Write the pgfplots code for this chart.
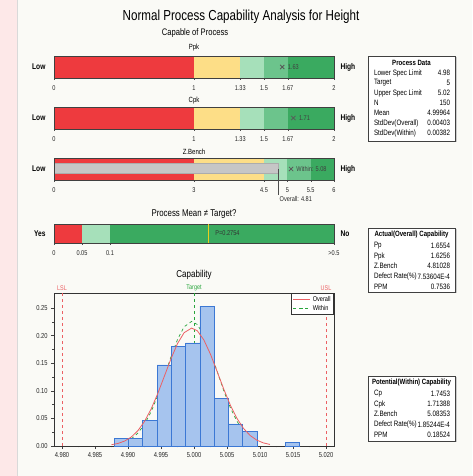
\documentclass[border=0pt]{standalone}
\usepackage{pgfplots}
\pgfplotsset{compat=1.18}
\usepackage{fontspec}
\setmainfont[FakeStretch=0.8]{Liberation Sans}
\definecolor{cred}{RGB}{238,58,62}
\definecolor{cyel}{RGB}{253,222,135}
\definecolor{cg1}{RGB}{166,224,186}
\definecolor{cg2}{RGB}{108,196,140}
\definecolor{cg3}{RGB}{58,170,96}
\definecolor{pinkbg}{RGB}{253,232,232}
\definecolor{panel}{RGB}{250,250,246}
\definecolor{hfill}{RGB}{166,196,238}
\definecolor{hdraw}{RGB}{60,120,212}
\definecolor{lred}{RGB}{236,96,100}
\definecolor{tgreen}{RGB}{40,165,60}
\definecolor{pline}{RGB}{235,205,30}
\newcommand{\fs}[1]{\fontsize{#1}{#1}\selectfont}
\pgfplotsset{
  segbar/.style={scale only axis, width=280pt, height=22pt, ymin=0, ymax=1,
    axis y line=none, axis x line*=bottom, clip=false,
    x axis line style={draw=none},
    tick align=outside, major tick length=2pt,
    tick style={black!70},
    xticklabel style={font=\fs{7}, text=black!85, yshift=-2pt}},
  seg/.style={fill=#1, draw=none},
  outl/.style={draw=black!75, line width=0.8pt}
}
\newcommand{\brow}[3]{\node[anchor=west,font=\fs{7.8}] at (370.5,476-#1) {#2};\node[anchor=east,font=\fs{7.8}] at (453.5,476-#1) {#3};}
\begin{document}
\begin{tikzpicture}[x=1pt,y=1pt]
\useasboundingbox (0,0) rectangle (472,476);
\fill[panel] (0,0) rectangle (472,476);
\fill[pinkbg] (0,0) rectangle (17,476);
\draw[black!15, line width=1pt] (17.5,0) -- (17.5,476);

% titles
\node[font=\fs{14.5}] at (241,459) {Normal Process Capability Analysis for Height};
\node[font=\fs{9.5}] at (195,443) {Capable of Process};
\node[font=\fs{7.5}] at (194,428) {Ppk};
\node[font=\fs{7.5}] at (194,375) {Cpk};
\node[font=\fs{7.5}] at (194,324) {Z.Bench};
\node[font=\fs{9.8}] at (194,262) {Process Mean ≠ Target?};
\node[font=\fs{10}] at (194,201) {Capability};

% Low/High labels
\node[anchor=east,font=\bfseries\fs{8.3}] at (49,409) {Low};
\node[anchor=west,font=\bfseries\fs{8.3}] at (337,409) {High};
\node[anchor=east,font=\bfseries\fs{8.3}] at (49,358) {Low};
\node[anchor=west,font=\bfseries\fs{8.3}] at (337,358) {High};
\node[anchor=east,font=\bfseries\fs{8.3}] at (49,307) {Low};
\node[anchor=west,font=\bfseries\fs{8.3}] at (337,307) {High};
\node[anchor=east,font=\bfseries\fs{8.3}] at (49,242.5) {Yes};
\node[anchor=west,font=\bfseries\fs{8.3}] at (337,242.5) {No};

% Ppk
\begin{axis}[segbar, at={(54pt,398pt)}, anchor=south west, xmin=0, xmax=2,
  xtick={0,1,1.33,1.5,1.67,2}, xticklabels={0,1,1.33,1.5,1.67,2}]
\addplot[seg=cred] coordinates {(0,0) (1,0) (1,1) (0,1)} -- cycle;
\addplot[seg=cyel] coordinates {(1,0) (1.33,0) (1.33,1) (1,1)} -- cycle;
\addplot[seg=cg1] coordinates {(1.33,0) (1.5,0) (1.5,1) (1.33,1)} -- cycle;
\addplot[seg=cg2] coordinates {(1.5,0) (1.67,0) (1.67,1) (1.5,1)} -- cycle;
\addplot[seg=cg3] coordinates {(1.67,0) (2,0) (2,1) (1.67,1)} -- cycle;
\addplot[outl] coordinates {(0,0) (2,0) (2,1) (0,1)} -- cycle;
\addplot[only marks, mark=x, mark size=3pt, black!65, thick] coordinates {(1.63,0.5)};
\node[anchor=west, font=\fs{7}, text=black!75] at (axis cs:1.645,0.5) {1.63};
\end{axis}

% Cpk
\begin{axis}[segbar, at={(54pt,347pt)}, anchor=south west, xmin=0, xmax=2,
  xtick={0,1,1.33,1.5,1.67,2}, xticklabels={0,1,1.33,1.5,1.67,2}]
\addplot[seg=cred] coordinates {(0,0) (1,0) (1,1) (0,1)} -- cycle;
\addplot[seg=cyel] coordinates {(1,0) (1.33,0) (1.33,1) (1,1)} -- cycle;
\addplot[seg=cg1] coordinates {(1.33,0) (1.5,0) (1.5,1) (1.33,1)} -- cycle;
\addplot[seg=cg2] coordinates {(1.5,0) (1.67,0) (1.67,1) (1.5,1)} -- cycle;
\addplot[seg=cg3] coordinates {(1.67,0) (2,0) (2,1) (1.67,1)} -- cycle;
\addplot[outl] coordinates {(0,0) (2,0) (2,1) (0,1)} -- cycle;
\addplot[only marks, mark=x, mark size=3pt, black!65, thick] coordinates {(1.71,0.5)};
\node[anchor=west, font=\fs{7}, text=black!75] at (axis cs:1.725,0.5) {1.71};
\end{axis}

% Z.Bench
\begin{axis}[segbar, at={(54pt,296pt)}, anchor=south west, xmin=0, xmax=6,
  xtick={0,3,4.5,5,5.5,6}, xticklabels={0,3,4.5,5,5.5,6}]
\addplot[seg=cred] coordinates {(0,0) (3,0) (3,1) (0,1)} -- cycle;
\addplot[seg=cyel] coordinates {(3,0) (4.5,0) (4.5,1) (3,1)} -- cycle;
\addplot[seg=cg1] coordinates {(4.5,0) (5,0) (5,1) (4.5,1)} -- cycle;
\addplot[seg=cg2] coordinates {(5,0) (5.5,0) (5.5,1) (5,1)} -- cycle;
\addplot[seg=cg3] coordinates {(5.5,0) (6,0) (6,1) (5.5,1)} -- cycle;
\addplot[fill=gray!45, draw=gray!65] coordinates {(0,0.3) (4.81,0.3) (4.81,0.75) (0,0.75)} -- cycle;
\addplot[outl] coordinates {(0,0) (6,0) (6,1) (0,1)} -- cycle;
\addplot[black!70, line width=0.6pt] coordinates {(4.81,0.5) (4.81,-0.68)};
\addplot[only marks, mark=x, mark size=3pt, black!65, thick] coordinates {(5.08,0.5)};
\node[anchor=west, font=\fs{7}, text=black!75] at (axis cs:5.12,0.5) {Within: 5.08};
\node[anchor=north west, font=\fs{7}, text=black!85, inner sep=1pt] at (axis cs:4.81,-0.68) {Overall: 4.81};
\end{axis}

% Process mean
\begin{axis}[segbar, height=19pt, at={(54pt,233pt)}, anchor=south west, xmin=0, xmax=0.5,
  xtick={0,0.05,0.1,0.5}, xticklabels={0,0.05,0.1,{>0.5}}]
\addplot[seg=cred] coordinates {(0,0) (0.05,0) (0.05,1) (0,1)} -- cycle;
\addplot[seg=cg1] coordinates {(0.05,0) (0.1,0) (0.1,1) (0.05,1)} -- cycle;
\addplot[seg=cg3] coordinates {(0.1,0) (0.5,0) (0.5,1) (0.1,1)} -- cycle;
\addplot[outl] coordinates {(0,0) (0.5,0) (0.5,1) (0,1)} -- cycle;
\addplot[pline, line width=1pt] coordinates {(0.2754,0) (0.2754,1)};
\node[anchor=west, font=\fs{7}, text=black!80] at (axis cs:0.282,0.5) {P=0.2754};
\end{axis}

% Histogram
\begin{axis}[at={(54pt,30pt)}, anchor=south west, scale only axis, width=280pt, height=153pt,
  xmin=4.97879, xmax=5.02121, ymin=0, ymax=0.277, clip=false,
  xtick={4.98,4.985,4.99,4.995,5,5.005,5.01,5.015,5.02},
  xticklabels={4.980,4.985,4.990,4.995,5.000,5.005,5.010,5.015,5.020},
  ytick={0,0.05,0.1,0.15,0.2,0.25},
  yticklabels={0.00,0.05,0.10,0.15,0.20,0.25},
  minor x tick num=1, minor y tick num=1,
  tick pos=left, tick align=outside,
  major tick length=3pt, minor tick length=1.5pt,
  tick style={black!75},
  tick label style={font=\fs{7.2}, text=black!85},
  axis line style={black!80, line width=0.8pt},
  legend style={at={(1,1)}, anchor=north east, draw=black!80, line width=0.9pt,
    font=\fs{7}, inner sep=1pt, row sep=-2pt, fill=white},
  legend cell align=left,
  legend image post style={line width=0.8pt},
]
\addplot[tgreen, dashed, line width=0.8pt, forget plot] coordinates {(5,0) (5,0.277)};
\addplot[tgreen, dashed, line width=0.7pt, forget plot] coordinates {
(4.9905,0.01289) (4.9915,0.02331) (4.9925,0.03933) (4.9935,0.06200) (4.9945,0.09126)
(4.9955,0.1254) (4.9965,0.1609) (4.9975,0.1928) (4.9985,0.2158) (4.99964,0.2256)
(5.0005,0.2200) (5.0015,0.2004) (5.0025,0.1705) (5.0035,0.1354) (5.0045,0.1004)
(5.0055,0.06955) (5.0065,0.04498) (5.0075,0.02716) (5.0085,0.01532)};
\addplot[ybar, bar width=0.00216, bar shift=0pt, fill=hfill, draw=hdraw, line width=0.6pt, forget plot] coordinates {
(4.98900,0.01333) (4.99116,0.01333) (4.99332,0.04667) (4.99548,0.14667)
(4.99764,0.18000) (4.99980,0.18667) (5.00196,0.25333) (5.00412,0.08667)
(5.00628,0.04000) (5.00844,0.02667) (5.01492,0.00667)};
\addplot[lred, dashed, line width=0.7pt, forget plot] coordinates {(4.98,0) (4.98,0.277)};
\addplot[lred, dashed, line width=0.7pt, forget plot] coordinates {(5.02,0) (5.02,0.277)};
\addplot[lred, line width=0.8pt, forget plot] coordinates {
(4.9875,0.00228) (4.9885,0.00468) (4.9895,0.00901) (4.9905,0.01631) (4.9915,0.02776)
(4.9925,0.04445) (4.9935,0.06689) (4.9945,0.09464) (4.9955,0.1260) (4.9965,0.1576)
(4.9975,0.1854) (4.9985,0.2051) (4.99964,0.2135) (5.0005,0.2087) (5.0015,0.1919)
(5.0025,0.1660) (5.0035,0.1350) (5.0045,0.1032) (5.0055,0.07418) (5.0065,0.05015)
(5.0075,0.03188) (5.0085,0.01904) (5.0095,0.01070) (5.0105,0.00566) (5.0115,0.00281)};
\addlegendimage{lred, line width=0.8pt}
\addlegendentry{Overall}
\addlegendimage{tgreen, dashed, line width=0.8pt}
\addlegendentry{Within}
\node[anchor=south, font=\fs{6.8}, text=lred, inner sep=1pt] at (axis cs:4.98,0.279) {LSL};
\node[anchor=south, font=\fs{6.8}, text=tgreen, inner sep=1pt] at (axis cs:5,0.279) {Target};
\node[anchor=south, font=\fs{6.8}, text=lred, inner sep=1pt] at (axis cs:5.02,0.279) {USL};
\end{axis}

% Info boxes
\fill[black!20] (369.5,476-142.5) rectangle (456.5,476-57.5);
\fill[white] (368,476-141) rectangle (455,476-56);
\draw[black!75, line width=0.7pt] (368,476-141) rectangle (455,476-56);
\node[font=\bfseries\fs{7.6}] at (411.5,476-62.5) {Process Data};
\brow{73}{Lower Spec Limit}{4.98}
\brow{83}{Target}{5}
\brow{93}{Upper Spec Limit}{5.02}
\brow{103}{N}{150}
\brow{113}{Mean}{4.99964}
\brow{123}{StdDev(Overall)}{0.00403}
\brow{133}{StdDev(Within)}{0.00382}

\fill[black!20] (369.5,476-293.5) rectangle (456.5,476-229.5);
\fill[white] (368,476-292) rectangle (455,476-228);
\draw[black!75, line width=0.7pt] (368,476-292) rectangle (455,476-228);
\node[font=\bfseries\fs{7.6}] at (411.5,476-235) {Actual(Overall) Capability};
\brow{246}{Pp}{1.6554}
\brow{256}{Ppk}{1.6256}
\brow{266}{Z.Bench}{4.81028}
\brow{276.5}{Defect Rate(\%)}{7.53604E-4}
\brow{286.5}{PPM}{0.7536}

\fill[black!20] (369.5,476-442.5) rectangle (456.5,476-377.5);
\fill[white] (368,476-441) rectangle (455,476-376);
\draw[black!75, line width=0.7pt] (368,476-441) rectangle (455,476-376);
\node[font=\bfseries\fs{7.6}] at (411.5,476-383) {Potential(Within) Capability};
\brow{394}{Cp}{1.7453}
\brow{404}{Cpk}{1.71388}
\brow{414}{Z.Bench}{5.08353}
\brow{424.5}{Defect Rate(\%)}{1.85244E-4}
\brow{434.5}{PPM}{0.18524}
\end{tikzpicture}
\end{document}
